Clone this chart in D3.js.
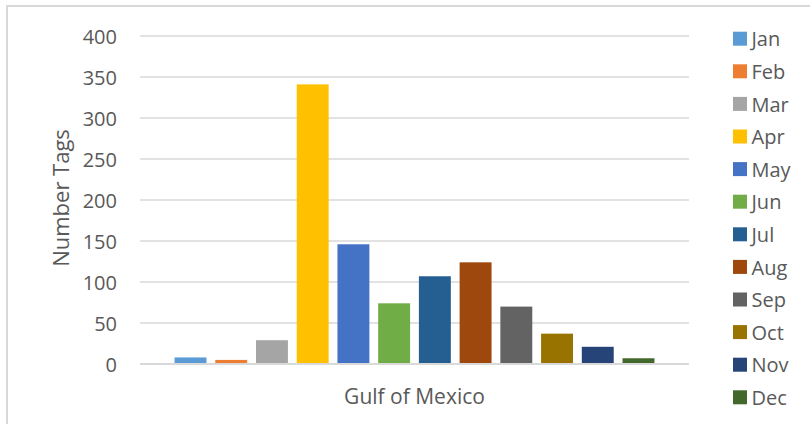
<!DOCTYPE html>
<html>
<head>
<meta charset="utf-8">
<script src="https://cdn.jsdelivr.net/npm/d3@7"></script>
<style>
  body { margin: 0; background: #fff; }
  text { font-family: "Open Sans", sans-serif; fill: #595959; }
</style>
</head>
<body>
<svg id="chart" width="810" height="424"></svg>
<script>
// Tag counts per month for the Gulf of Mexico
const categories = ["Gulf of Mexico"];
const months = ["Jan","Feb","Mar","Apr","May","Jun","Jul","Aug","Sep","Oct","Nov","Dec"];
const tagCounts = [8, 5, 29, 341, 146, 74, 107, 124, 70, 37, 21, 7];
const monthColors = ["#5B9BD5","#ED7D31","#A5A5A5","#FFC000","#4472C4","#70AD47",
                     "#255E91","#9E480E","#636363","#997300","#264478","#43682B"];
const yTicks = [0, 50, 100, 150, 200, 250, 300, 350, 400];

const svg = d3.select("#chart");
const plot = { left: 140, right: 689, top: 36, bottom: 364 };

// outer chart frame
svg.append("rect")
  .attr("x", 7).attr("y", 6)
  .attr("width", 820).attr("height", 440)
  .attr("fill", "none").attr("stroke", "#D9D9D9").attr("stroke-width", 2);

const y = d3.scaleLinear().domain([0, 400]).range([plot.bottom, plot.top]);

const x0 = d3.scaleBand().domain(categories)
  .range([plot.left, plot.right]).paddingInner(0).paddingOuter(0.0617);
const x1 = d3.scaleBand().domain(months)
  .range([0, x0.bandwidth()]).paddingInner(0.216).paddingOuter(0.108);

// horizontal gridlines
svg.append("g").selectAll("line")
  .data(yTicks.filter(d => d > 0))
  .join("line")
  .attr("x1", plot.left).attr("x2", plot.right)
  .attr("y1", d => y(d)).attr("y2", d => y(d))
  .attr("stroke", "#D9D9D9").attr("stroke-width", 1.3);

// value axis labels
const yAxis = d3.axisLeft(y).tickValues(yTicks).tickSize(0).tickPadding(0);
const gy = svg.append("g").attr("transform", `translate(117,0)`).call(yAxis);
gy.select(".domain").remove();
gy.selectAll("text")
  .attr("font-family", "Open Sans, sans-serif")
  .attr("font-size", 20)
  .attr("fill", "#595959")
  .attr("dy", "0.36em");

// bars
const group = svg.append("g").selectAll("g")
  .data(categories)
  .join("g")
  .attr("transform", d => `translate(${x0(d)},0)`);

group.selectAll("rect")
  .data(months.map((m, i) => ({ month: m, value: tagCounts[i], color: monthColors[i] })))
  .join("rect")
  .attr("x", d => x1(d.month))
  .attr("width", x1.bandwidth())
  .attr("y", d => y(d.value))
  .attr("height", d => y(0) - y(d.value))
  .attr("fill", d => d.color);

// category axis line and label
svg.append("line")
  .attr("x1", plot.left).attr("x2", plot.right)
  .attr("y1", y(0)).attr("y2", y(0))
  .attr("stroke", "#D9D9D9").attr("stroke-width", 2);

const xAxis = d3.axisBottom(x0).tickSize(0).tickPadding(0);
const gx = svg.append("g").attr("transform", `translate(0,404)`).call(xAxis);
gx.select(".domain").remove();
gx.selectAll("text")
  .attr("font-family", "Open Sans, sans-serif")
  .attr("font-size", 21)
  .attr("fill", "#595959")
  .attr("dy", 0);

// value axis title
svg.append("text")
  .attr("transform", "translate(69,198) rotate(-90)")
  .attr("text-anchor", "middle")
  .attr("font-size", 22)
  .text("Number Tags");

// legend
const legend = svg.append("g").selectAll("g")
  .data(months.map((m, i) => ({ month: m, color: monthColors[i] })))
  .join("g")
  .attr("transform", (d, i) => `translate(733,${31.7 + i * 32.6})`);

legend.append("rect")
  .attr("width", 14).attr("height", 14)
  .attr("fill", d => d.color);

legend.append("text")
  .attr("x", 18.5).attr("y", 14.6)
  .attr("font-size", 20)
  .text(d => d.month);
</script>
</body>
</html>
